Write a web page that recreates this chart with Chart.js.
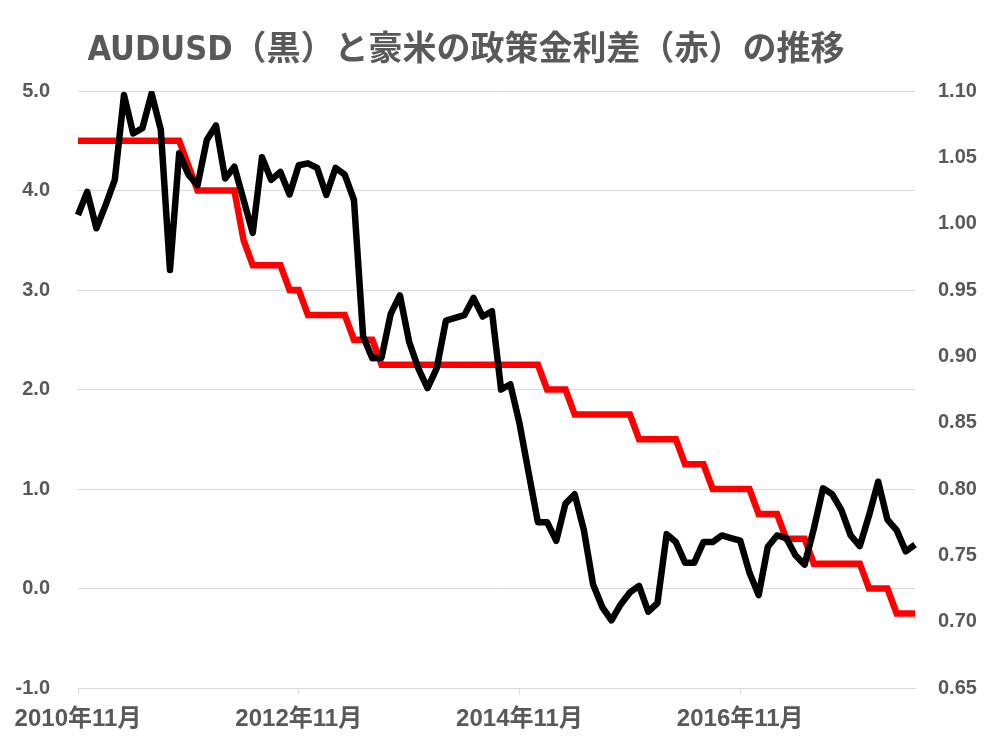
<!DOCTYPE html>
<html lang="ja">
<head>
<meta charset="utf-8">
<title>AUDUSD と豪米の政策金利差</title>
<script src="https://cdn.jsdelivr.net/npm/chart.js@4.4.1/dist/chart.umd.min.js"></script>
<style>
	html, body { margin: 0; padding: 0; background: #fff; }
	#wrap { width: 1005px; height: 753px; }
</style>
</head>
<body>
<div id="wrap"><canvas id="rateChart" width="1005" height="753"></canvas></div>
<script>
var chartTitle = 'AUDUSD（黒）と豪米の政策金利差（赤）の推移';

// 2010年11月 ～ 2018年6月 (月次)
var startYear = 2010;
var startMonth = 11;
var monthCount = 92;
var months = [];
for (var i = 0; i < monthCount; i++) {
	var m = startMonth - 1 + i;
	months.push((startYear + Math.floor(m / 12)) + '年' + (m % 12 + 1) + '月');
}

// 表示するx軸ラベル
var tickLabels = ['2010年11月', '2012年11月', '2014年11月', '2016年11月'];

// AUDUSD (右軸)
var audusd = [
	1.0065, 1.024, 0.9965, 1.014, 1.033, 1.097, 1.068, 1.072, 1.098, 1.071,
	0.965, 1.053, 1.037, 1.029, 1.063, 1.074, 1.034, 1.043, 1.018, 0.993,
	1.050, 1.033, 1.039, 1.022, 1.044, 1.0455, 1.042, 1.0216, 1.042, 1.037,
	1.018, 0.915, 0.8985, 0.899, 0.932, 0.946, 0.911, 0.891, 0.876, 0.891,
	0.927, 0.929, 0.931, 0.944, 0.930, 0.934, 0.875, 0.879, 0.8495, 0.812,
	0.775, 0.775, 0.761, 0.789, 0.796, 0.769, 0.728, 0.711, 0.701, 0.713,
	0.722, 0.727, 0.7075, 0.714, 0.766, 0.760, 0.7445, 0.7445, 0.760, 0.760,
	0.765, 0.763, 0.761, 0.737, 0.720, 0.7565, 0.765, 0.763, 0.750, 0.743,
	0.770, 0.8005, 0.796, 0.784, 0.765, 0.757, 0.780, 0.8055, 0.777, 0.769,
	0.753, 0.758
];

// 豪米の政策金利差 (左軸)
var rateDiff = [
	4.5, 4.5, 4.5, 4.5, 4.5, 4.5, 4.5, 4.5, 4.5, 4.5,
	4.5, 4.5, 4.25, 4.0, 4.0, 4.0, 4.0, 4.0, 3.5, 3.25,
	3.25, 3.25, 3.25, 3.0, 3.0, 2.75, 2.75, 2.75, 2.75, 2.75,
	2.5, 2.5, 2.5, 2.25, 2.25, 2.25, 2.25, 2.25, 2.25, 2.25,
	2.25, 2.25, 2.25, 2.25, 2.25, 2.25, 2.25, 2.25, 2.25, 2.25,
	2.25, 2.0, 2.0, 2.0, 1.75, 1.75, 1.75, 1.75, 1.75, 1.75,
	1.75, 1.5, 1.5, 1.5, 1.5, 1.5, 1.25, 1.25, 1.25, 1.0,
	1.0, 1.0, 1.0, 1.0, 0.75, 0.75, 0.75, 0.5, 0.5, 0.5,
	0.25, 0.25, 0.25, 0.25, 0.25, 0.25, 0.0, 0.0, 0.0, -0.25,
	-0.25, -0.25
];

var textColor = '#595959';
var gridColor = '#d9d9d9';
var tickFont = '"Liberation Sans", Arial, "Noto Sans CJK JP", sans-serif';

// タイトル (グラフ左寄りに配置)
var titlePlugin = {
	id: 'titleText',
	afterDraw: function(chart) {
		var ctx = chart.ctx;
		ctx.save();
		ctx.font = 'bold 34px "Liberation Sans Narrow", "DejaVu Sans Condensed", "Noto Sans CJK JP", sans-serif';
		ctx.fillStyle = textColor;
		ctx.textAlign = 'center';
		ctx.textBaseline = 'middle';
		ctx.fillText(chartTitle, 466, 51);
		ctx.restore();
	}
};

var ctx = document.getElementById('rateChart').getContext('2d');
var rate_chart = new Chart(ctx, {
	type: 'line',
	data: {
		labels: months,
		datasets: [{
			label: 'AUDUSD',
			data: audusd,
			yAxisID: 'y1',
			borderColor: '#000000',
			borderWidth: 6.5,
			borderJoinStyle: 'round',
			pointRadius: 0,
			order: 0
		}, {
			label: '政策金利差',
			data: rateDiff,
			yAxisID: 'y',
			borderColor: '#ff0000',
			borderWidth: 6.5,
			pointRadius: 0,
			order: 1
		}]
	},
	options: {
		responsive: false,
		animation: false,
		layout: {
			padding: { top: 91, left: 0, right: 0, bottom: 0 }
		},
		elements: {
			line: { tension: 0, fill: false }
		},
		scales: {
			x: {
				offset: false,
				grid: {
					drawOnChartArea: false,
					drawTicks: true,
					tickLength: 6,
					color: function(c) {
						return (c.tick && c.tick.label) ? gridColor : 'rgba(0,0,0,0)';
					}
				},
				border: { display: true, color: gridColor, width: 1 },
				ticks: {
					autoSkip: false,
					maxRotation: 0,
					minRotation: 0,
					padding: 11,
					color: textColor,
					font: { family: tickFont, size: 24, weight: 'bold' },
					callback: function(value, index) {
						var label = this.getLabelForValue(value);
						return tickLabels.indexOf(label) >= 0 ? label : null;
					}
				},
				afterFit: function(scale) { scale.height = 65; }
			},
			y: {
				position: 'left',
				min: -1,
				max: 5,
				grid: { color: gridColor, lineWidth: 1, drawTicks: false },
				border: { display: false },
				ticks: {
					stepSize: 1,
					padding: 28,
					color: textColor,
					font: { family: tickFont, size: 20, weight: 'bold' },
					callback: function(v) { return Number(v).toFixed(1); }
				},
				afterFit: function(scale) { scale.width = 78; }
			},
			y1: {
				position: 'right',
				min: 0.65,
				max: 1.10,
				grid: { drawOnChartArea: false, drawTicks: false },
				border: { display: false },
				ticks: {
					stepSize: 0.05,
					padding: 23,
					color: textColor,
					font: { family: tickFont, size: 20, weight: 'bold' },
					callback: function(v) { return Number(v).toFixed(2); }
				},
				afterFit: function(scale) { scale.width = 90; }
			}
		},
		plugins: {
			legend: { display: false },
			title: { display: false },
			tooltip: { enabled: false }
		}
	},
	plugins: [titlePlugin]
});
</script>
</body>
</html>
